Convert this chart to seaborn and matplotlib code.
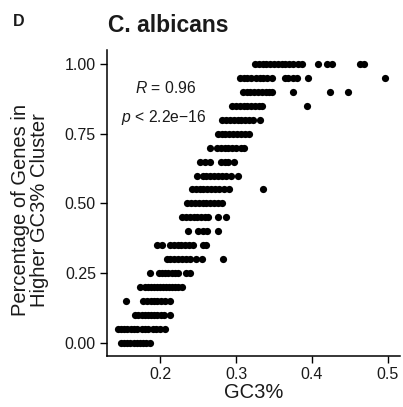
import numpy as np
import pandas as pd
import matplotlib
matplotlib.use("Agg")
import matplotlib.pyplot as plt
import seaborn as sns

# ── Data: GC3% per gene group, grouped by share in the higher GC3% cluster ──
pct_levels = [0.00, 0.05, 0.10, 0.15, 0.20, 0.25, 0.30, 0.35, 0.40, 0.45, 0.50,
              0.55, 0.60, 0.65, 0.70, 0.75, 0.80, 0.85, 0.90, 0.95, 1.00]

gc3_by_level = [
    [0.148, 0.152, 0.156, 0.160, 0.165, 0.169, 0.173, 0.177, 0.181, 0.186],
    [0.145, 0.149, 0.153, 0.157, 0.161, 0.165, 0.169, 0.176, 0.180, 0.184,
     0.190, 0.195, 0.200, 0.206],
    [0.167, 0.171, 0.176, 0.180, 0.184, 0.188, 0.192, 0.196, 0.201, 0.205, 0.213],
    [0.155, 0.178, 0.183, 0.188, 0.192, 0.196, 0.201, 0.207, 0.213],
    [0.174, 0.180, 0.184, 0.188, 0.192, 0.196, 0.200, 0.204, 0.208, 0.212,
     0.216, 0.220, 0.224, 0.229],
    [0.187, 0.198, 0.202, 0.206, 0.210, 0.215, 0.220, 0.224, 0.234, 0.240],
    [0.209, 0.213, 0.218, 0.224, 0.229, 0.234, 0.240, 0.247, 0.255, 0.283],
    [0.196, 0.202, 0.213, 0.218, 0.223, 0.228, 0.233, 0.238, 0.243, 0.257, 0.261],
    [0.237, 0.250, 0.256, 0.262, 0.276],
    [0.229, 0.234, 0.239, 0.244, 0.249, 0.254, 0.259, 0.263, 0.276, 0.287],
    [0.236, 0.241, 0.246, 0.251, 0.256, 0.261, 0.266, 0.271, 0.276, 0.281],
    [0.242, 0.247, 0.252, 0.257, 0.262, 0.267, 0.272, 0.278, 0.284, 0.291, 0.336],
    [0.249, 0.256, 0.261, 0.266, 0.271, 0.276, 0.281, 0.287, 0.294, 0.302],
    [0.253, 0.259, 0.266, 0.280, 0.285, 0.290, 0.297],
    [0.266, 0.275, 0.280, 0.285, 0.290, 0.295, 0.300, 0.306, 0.311],
    [0.276, 0.281, 0.286, 0.291, 0.296, 0.301, 0.306, 0.312, 0.317],
    [0.282, 0.287, 0.292, 0.297, 0.302, 0.307, 0.312, 0.317, 0.322, 0.332],
    [0.295, 0.300, 0.305, 0.310, 0.315, 0.320, 0.325, 0.330, 0.334, 0.393],
    [0.309, 0.314, 0.319, 0.324, 0.329, 0.334, 0.339, 0.344, 0.347, 0.375,
     0.424, 0.447],
    [0.305, 0.310, 0.315, 0.320, 0.326, 0.331, 0.336, 0.341, 0.348, 0.364,
     0.369, 0.375, 0.380, 0.395, 0.496],
    [0.325, 0.330, 0.335, 0.340, 0.345, 0.350, 0.355, 0.360, 0.365, 0.370,
     0.375, 0.381, 0.387, 0.408, 0.420, 0.427, 0.463, 0.468],
]

x_ticks = [0.2, 0.3, 0.4, 0.5]
y_ticks = [0.00, 0.25, 0.50, 0.75, 1.00]

rows = []
for p, xs in zip(pct_levels, gc3_by_level):
    for x in xs:
        rows.append({"GC3": x, "pct": p})
df = pd.DataFrame(rows)

# ── Plot ─────────────────────────────────────────────────────
sns.set_style("ticks")
plt.rcParams["font.family"] = ["Liberation Sans", "DejaVu Sans"]
plt.rcParams["mathtext.fontset"] = "custom"
plt.rcParams["mathtext.rm"] = "Liberation Sans"
plt.rcParams["mathtext.it"] = "Liberation Sans:italic"

txt = "#1a1a1a"
fig = plt.figure(figsize=(4.03, 4.07), dpi=100)
ax = fig.add_axes([107 / 403, 1 - 356 / 407, 293 / 403, 306 / 407])

sns.scatterplot(data=df, x="GC3", y="pct", color="black", s=27,
                linewidth=0, ax=ax)

ax.set_xlim(0.130, 0.516)
ax.set_ylim(-0.047, 1.05)
ax.set_xticks(x_ticks)
ax.set_xticklabels([f"{t:.1f}" for t in x_ticks])
ax.set_yticks(y_ticks)
ax.set_yticklabels([f"{t:.2f}" for t in y_ticks])
ax.tick_params(axis="both", labelsize=11.5, length=5, width=1.0,
               color="black", labelcolor=txt, pad=3)
for side in ["top", "right"]:
    ax.spines[side].set_visible(False)
for side in ["left", "bottom"]:
    ax.spines[side].set_linewidth(1.1)
    ax.spines[side].set_color("black")

ax.set_xlabel("GC3%", fontsize=14.5, color=txt, labelpad=1)
ax.set_ylabel("Percentage of Genes in\nHigher GC3% Cluster", fontsize=14.5,
              color=txt, linespacing=0.98)
ax.yaxis.set_label_coords(-0.198, 0.477)

ax.text(0.2066, 0.896, r"$R$ = 0.96", fontsize=11.3, ha="center", va="baseline",
        color=txt)
ax.text(0.2046, 0.791, r"$p$ < 2.2e$-$16", fontsize=11.3, ha="center",
        va="baseline", color=txt)

fig.text(108 / 403, 1 - 26 / 407, "C. albicans", fontsize=16.5, fontweight="bold",
         ha="left", va="center", color=txt)
fig.text(13 / 403, 1 - 22 / 407, "D", fontsize=11.5, fontweight="bold",
         ha="left", va="center", color=txt)

plt.savefig("out.png", dpi=100)
plt.close()
